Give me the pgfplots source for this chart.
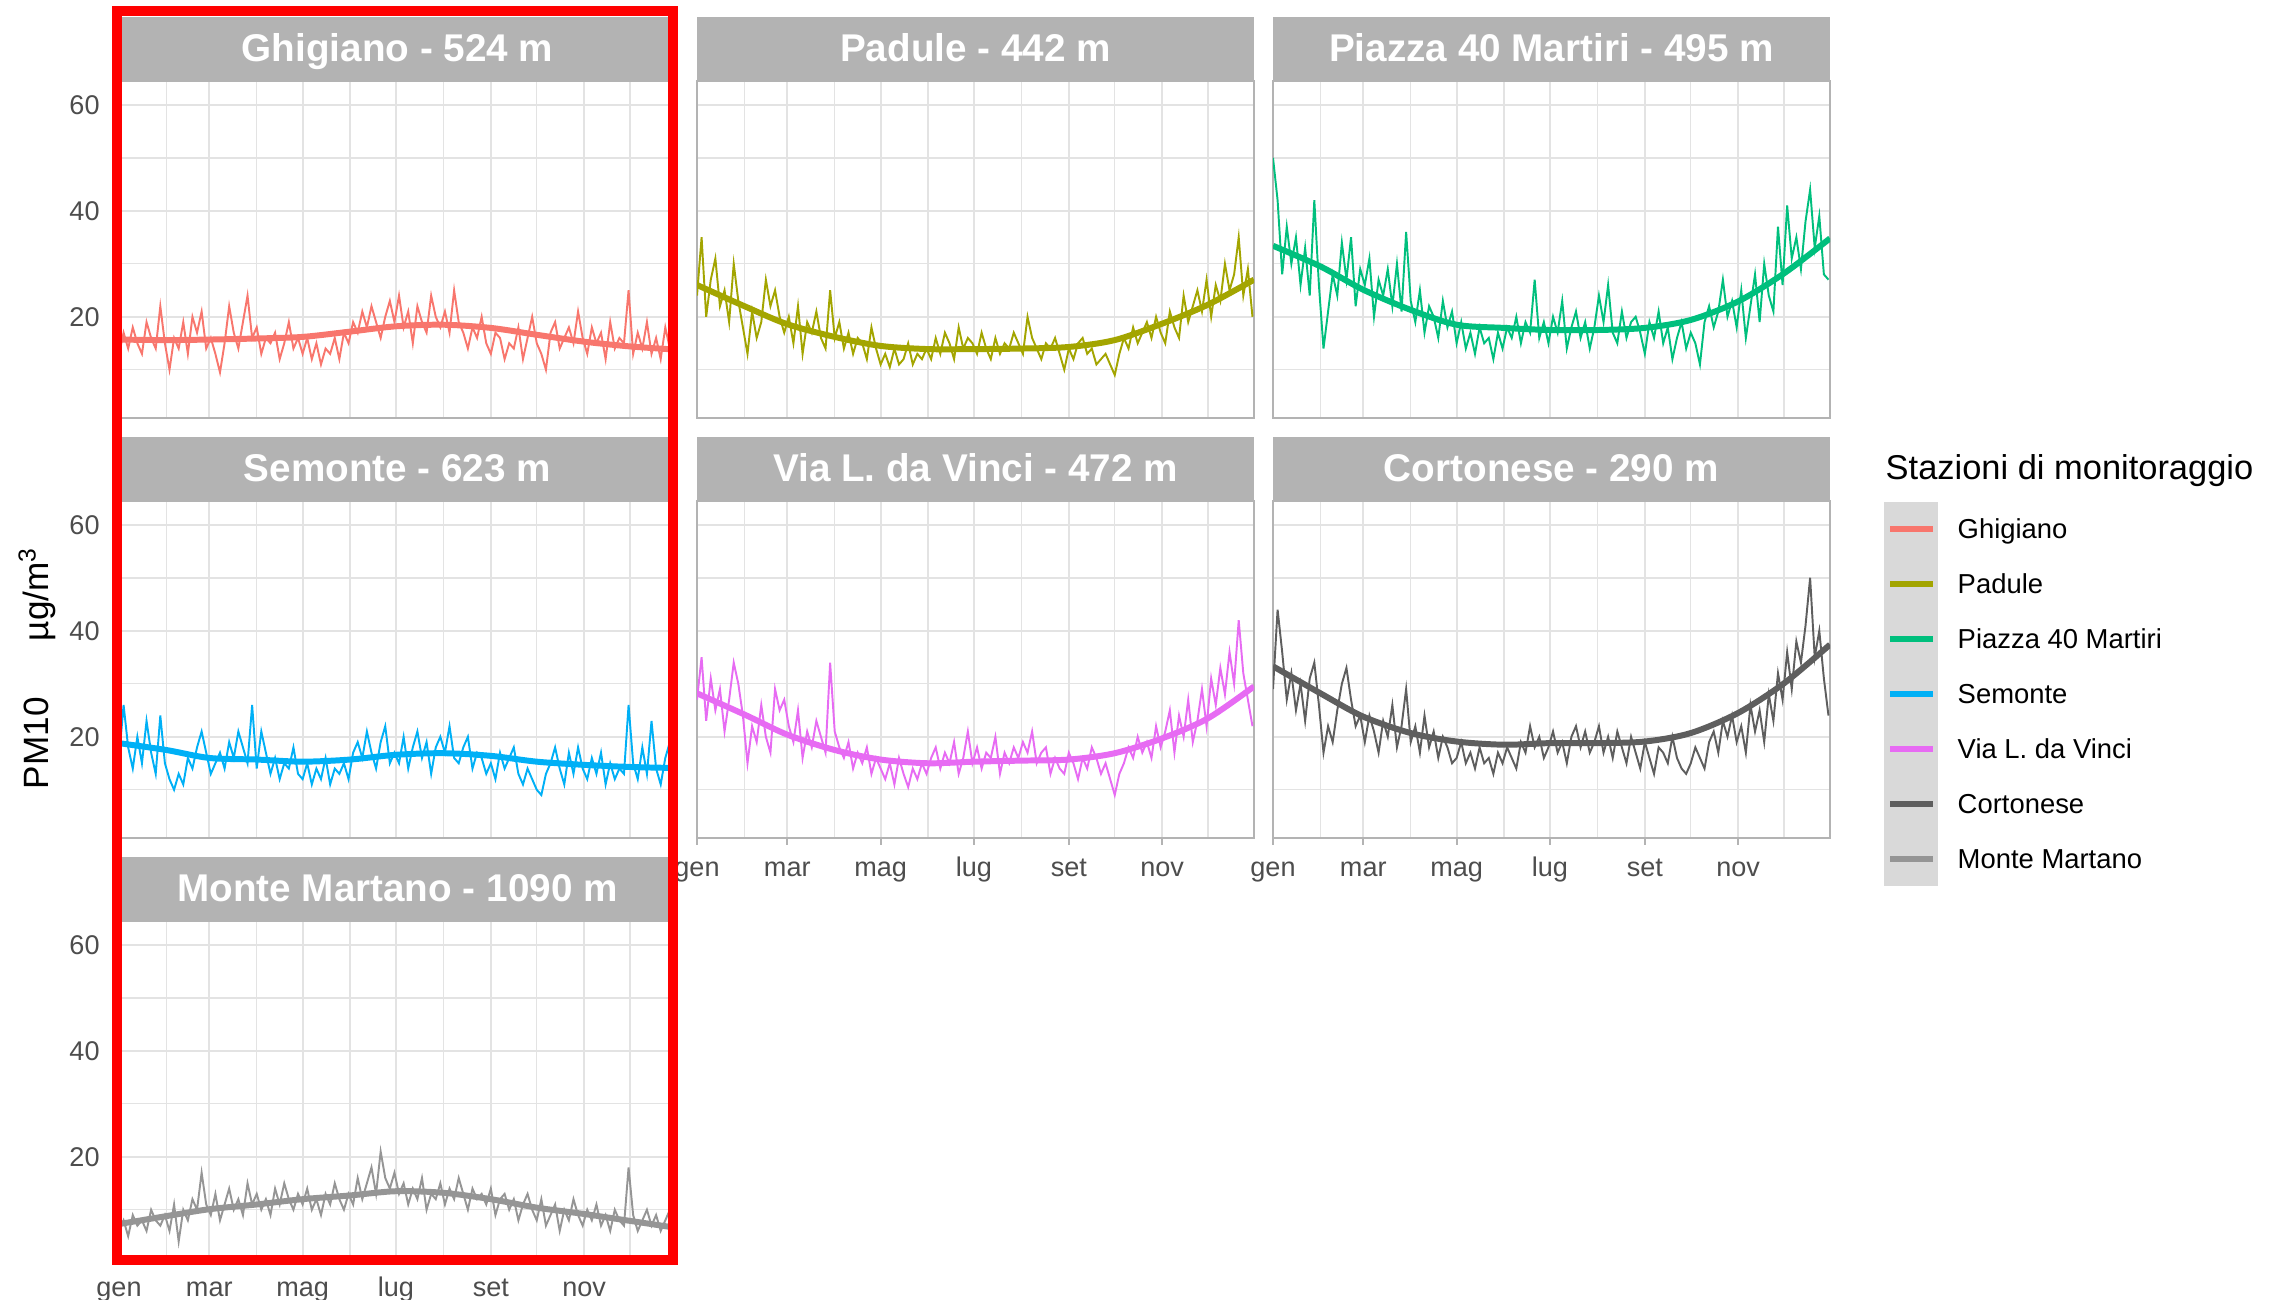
\documentclass[border=0pt]{standalone}
\usepackage{pgfplots}
\usepackage{pgfplotstable}
\usepackage{fontspec}
\setmainfont{Liberation Sans}
\pgfplotsset{compat=1.18}

\definecolor{cGhi}{HTML}{F8766D}
\definecolor{cPad}{HTML}{A3A500}
\definecolor{cPia}{HTML}{00BF7D}
\definecolor{cSem}{HTML}{00B0F6}
\definecolor{cVia}{HTML}{E76BF3}
\definecolor{cCor}{HTML}{5E5E5E}
\definecolor{cMM}{HTML}{959595}
\definecolor{stripc}{HTML}{B3B3B3}
\definecolor{gridc}{HTML}{E3E3E3}
\definecolor{ticklab}{HTML}{4D4D4D}
\definecolor{keybg}{HTML}{D9D9D9}

% daily PM10, one value every 3 days from 1 Jan
\pgfplotstableread[row sep=\\, header=false]{
13\\17\\14\\18\\15\\13\\19\\16\\14\\22\\ 15\\10\\16\\14\\19\\13\\20\\17\\21\\14\\
16\\13\\9.5\\15\\22\\17\\14\\19\\24\\16\\ 18\\13\\16\\15\\17\\12\\15\\19\\14\\16\\
13\\16\\12\\15\\11\\14\\13\\16\\12\\17\\ 15\\19\\17\\21\\18\\22\\19\\16\\20\\23\\
19\\24\\18\\21\\15\\22\\19\\17\\24\\20\\ 18\\21\\17\\25\\19\\17\\14\\18\\16\\20\\
15\\13\\17\\16\\12\\15\\14\\18\\12\\16\\ 20\\15\\13\\10\\17\\19\\14\\16\\18\\15\\
21\\16\\13\\18\\15\\17\\12\\19\\14\\16\\ 15\\25\\13\\17\\14\\19\\13\\16\\12\\18\\14\\15\\
}\tGhi
\pgfplotstableread[row sep=\\, header=false]{
24\\35\\20\\27\\31\\22\\25\\19\\30\\23\\ 18\\13\\21\\16\\19\\27\\22\\25\\20\\17\\
20\\15\\22\\13\\19\\17\\21\\16\\14\\25\\ 16\\19\\14\\17\\13\\16\\15\\12\\18\\14\\
11\\13\\10.5\\14\\11\\12\\15\\11\\13\\12\\ 14\\12\\16\\13\\17\\15\\12\\18\\14\\16\\
15\\13\\17\\14\\12\\16\\13\\15\\14\\17\\ 15\\13\\20\\16\\14\\12\\15\\14\\16\\13\\
10\\14\\12\\15\\16\\13\\14\\11\\12\\13\\ 11\\9\\13\\16\\14\\18\\15\\17\\19\\16\\
20\\17\\15\\21\\18\\16\\24\\19\\22\\25\\ 21\\27\\20\\26\\23\\30\\25\\28\\35\\24\\29\\20\\
}\tPad
\pgfplotstableread[row sep=\\, header=false]{
50\\42\\28\\37\\30\\35\\26\\33\\24\\42\\ 26\\14\\21\\28\\24\\34\\27\\35\\22\\29\\
26\\31\\20\\27\\24\\29\\22\\30\\21\\36\\ 23\\19\\25\\17\\22\\20\\16\\23\\18\\21\\
15\\19\\14\\17\\13\\18\\15\\16\\12\\17\\ 14\\18\\16\\20\\15\\19\\17\\27\\16\\19\\
15\\20\\17\\23\\14\\18\\21\\16\\19\\14\\ 18\\24\\19\\26\\17\\15\\21\\16\\19\\20\\
17\\13\\19\\16\\21\\15\\18\\12\\16\\19\\ 14\\17\\15\\11\\19\\22\\18\\21\\27\\20\\
23\\18\\25\\16\\22\\28\\19\\30\\24\\21\\ 37\\26\\41\\31\\35\\29\\38\\44\\33\\39\\28\\27\\
}\tPia
\pgfplotstableread[row sep=\\, header=false]{
16\\26\\18\\14\\20\\15\\23\\17\\13\\24\\ 15\\12\\10\\13\\11\\16\\14\\18\\21\\17\\
13\\15\\17\\14\\19\\16\\21\\18\\15\\26\\ 14\\21\\17\\13\\16\\12\\15\\14\\18\\13\\
12\\15\\11\\14\\12\\16\\11\\14\\13\\15\\ 12\\17\\19\\16\\21\\17\\14\\19\\22\\15\\
17\\15\\20\\14\\18\\21\\16\\19\\13\\18\\ 20\\17\\22\\16\\15\\18\\20\\14\\17\\16\\
13\\15\\12\\17\\14\\16\\18\\13\\11\\14\\ 12\\10\\9\\13\\15\\18\\14\\11\\17\\13\\
18\\14\\12\\16\\13\\17\\11\\15\\12\\14\\ 13\\26\\15\\12\\18\\13\\23\\14\\11\\16\\19\\18\\
}\tSem
\pgfplotstableread[row sep=\\, header=false]{
27\\35\\23\\31\\25\\29\\21\\27\\34\\30\\ 24\\15\\22\\19\\26\\20\\17\\29\\25\\27\\
22\\19\\25\\16\\21\\18\\23\\20\\17\\34\\ 21\\18\\16\\19\\14\\17\\15\\18\\13\\16\\
14\\12\\15\\11\\16\\13\\10.5\\14\\12\\15\\ 13\\16\\18\\14\\17\\15\\19\\13\\16\\21\\
15\\18\\14\\17\\16\\20\\13\\17\\15\\18\\ 16\\19\\17\\21\\15\\17\\18\\13\\16\\14\\
13\\17\\15\\12\\16\\14\\18\\16\\13\\15\\ 12\\9\\13\\15\\18\\16\\20\\17\\19\\16\\
22\\18\\21\\25\\17\\24\\20\\27\\19\\23\\ 29\\22\\31\\26\\33\\28\\36\\30\\42\\32\\27\\22\\
}\tVia
\pgfplotstableread[row sep=\\, header=false]{
29\\44\\36\\27\\32\\25\\30\\23\\31\\34\\ 26\\17\\22\\19\\25\\30\\33\\27\\22\\24\\
19\\24\\21\\17\\23\\20\\26\\18\\22\\29\\ 19\\22\\17\\24\\18\\21\\16\\20\\18\\15\\
16\\19\\15\\17\\14\\18\\15\\16\\13\\17\\ 15\\18\\16\\14\\19\\17\\22\\18\\20\\16\\
18\\21\\17\\19\\15\\20\\22\\18\\21\\17\\ 19\\22\\17\\20\\16\\21\\18\\15\\20\\17\\
14\\19\\16\\13\\18\\17\\15\\20\\16\\14\\ 13\\15\\18\\16\\14\\19\\21\\17\\23\\20\\
24\\19\\22\\17\\26\\21\\25\\19\\28\\23\\ 32\\27\\36\\29\\38\\34\\41\\50\\35\\40\\31\\24\\
}\tCor
\pgfplotstableread[row sep=\\, header=false]{
6\\8\\5\\9\\7\\8\\6\\10\\8\\7\\ 9\\6\\11\\4\\10\\8\\12\\10\\17\\11\\
9\\13\\8\\11\\14\\10\\12\\9\\15\\11\\ 13\\10\\12\\9\\14\\11\\15\\12\\10\\13\\
11\\14\\10\\12\\9\\13\\11\\15\\12\\10\\ 13\\11\\16\\12\\15\\18\\13\\21\\16\\14\\
17\\13\\15\\11\\14\\12\\16\\10\\13\\12\\ 15\\11\\14\\12\\16\\13\\10\\14\\12\\13\\
11\\14\\9\\12\\13\\10\\12\\8\\11\\13\\ 10\\8\\12\\7\\9\\11\\6\\10\\8\\12\\
9\\7\\10\\8\\11\\7\\9\\6\\10\\8\\ 7\\18\\9\\6\\8\\10\\7\\9\\6\\8\\10\\7\\
}\tMM

\pgfplotsset{
  panel/.style={
    scale only axis, width=55.7mm, height=33.7mm, anchor=south west,
    xmin=0, xmax=364, ymin=0.9, ymax=64.5,
    xtick={0,59,120,181,243,304}, minor xtick={31,90,151,212,273,334},
    ytick={20,40,60}, minor ytick={10,30,50},
    grid=both,
    major grid style={draw=gridc, line width=0.55pt},
    minor grid style={draw=gridc, line width=0.4pt},
    axis line style={draw=stripc, line width=0.6pt},
    tick align=outside, major tick length=0.7mm, minor tick length=0pt,
    xtick style={draw=none}, ytick style={draw=none},
    xticklabels={}, yticklabels={},
    tick label style={font=\fontsize{7.7}{9}\selectfont, text=ticklab},
    xticklabel style={text height=0.55em, text depth=0.2em},
  },
  xlab/.style={xticklabels={gen,mar,mag,lug,set,nov}, xtick pos=left,
    xtick style={draw=stripc, line width=0.5pt}},
  ylab/.style={yticklabels={20,40,60}},
  raw/.style={color=#1, line width=0.55pt, no markers},
  fit/.style={color=#1, line width=1.7pt, smooth, no markers},
}

\begin{document}
\begin{tikzpicture}
% row 1
\begin{axis}[panel, ylab, at={(11.9mm,88.2mm)}]
\addplot[raw=cGhi] table[x expr=\coordindex*3, y index=0] {\tGhi};
\addplot[fit=cGhi] coordinates {(0,15.7)(31,15.6)(59,15.7)(90,15.9)(120,16.2)(151,17.2)(181,18.2)(212,18.5)(243,17.9)(273,16.6)(304,15.3)(334,14.4)(364,13.8)};
\end{axis}
\begin{axis}[panel, at={(69.7mm,88.2mm)}]
\addplot[raw=cPad] table[x expr=\coordindex*3, y index=0] {\tPad};
\addplot[fit=cPad] coordinates {(0,26)(31,22)(59,18.6)(90,16.2)(120,14.5)(151,13.9)(181,13.9)(212,14.0)(243,14.3)(273,15.6)(304,18.7)(334,22.3)(364,27)};
\end{axis}
\begin{axis}[panel, at={(127.3mm,88.2mm)}]
\addplot[raw=cPia] table[x expr=\coordindex*3, y index=0] {\tPia};
\addplot[fit=cPia] coordinates {(0,33.4)(31,29.5)(59,25.1)(90,21.3)(120,18.5)(151,17.9)(181,17.5)(212,17.5)(243,17.9)(273,19.4)(304,22.9)(334,28.2)(364,34.8)};
\end{axis}
% row 2
\begin{axis}[panel, ylab, at={(11.9mm,46.2mm)}]
\addplot[raw=cSem] table[x expr=\coordindex*3, y index=0] {\tSem};
\addplot[fit=cSem] coordinates {(0,18.8)(31,17.5)(59,16.0)(90,15.7)(120,15.3)(151,15.7)(181,16.6)(212,16.9)(243,16.4)(273,15.3)(304,14.7)(334,14.3)(364,14.1)};
\end{axis}
\begin{axis}[panel, xlab, at={(69.7mm,46.2mm)}]
\addplot[raw=cVia] table[x expr=\coordindex*3, y index=0] {\tVia};
\addplot[fit=cVia] coordinates {(0,28.2)(31,24.2)(59,20.4)(90,17.5)(120,15.7)(151,15.0)(181,15.3)(212,15.5)(243,15.7)(273,16.9)(304,19.7)(334,23.5)(364,29.5)};
\end{axis}
\begin{axis}[panel, xlab, at={(127.3mm,46.2mm)}]
\addplot[raw=cCor] table[x expr=\coordindex*3, y index=0] {\tCor};
\addplot[fit=cCor] coordinates {(0,33.3)(31,28.2)(59,23.8)(90,20.7)(120,19.1)(151,18.5)(181,18.8)(212,18.8)(243,19.1)(273,20.7)(304,24.5)(334,30.1)(364,37.4)};
\end{axis}
% row 3
\begin{axis}[panel, ylab, xlab, at={(11.9mm,4.2mm)}]
\addplot[raw=cMM] table[x expr=\coordindex*3, y index=0] {\tMM};
\addplot[fit=cMM] coordinates {(0,7.3)(31,8.8)(59,10.1)(90,11.0)(120,12.0)(151,12.7)(181,13.5)(212,13.2)(243,12.0)(273,10.4)(304,9.2)(334,7.9)(364,6.6)};
\end{axis}

\begin{scope}[x=0.1mm, y=-0.1mm, shift={(0mm,130mm)}]
  \tikzset{striptxt/.style={text=white, anchor=base, font=\bfseries\fontsize{11}{13}\selectfont}}
  \foreach \x/\y/\t in {119/17/{Ghigiano - 524 m}, 697/17/{Padule - 442 m}, 1273/17/{Piazza 40 Martiri - 495 m},
      119/437/{Semonte - 623 m}, 697/437/{Via L. da Vinci - 472 m}, 1273/437/{Cortonese - 290 m},
      119/857/{Monte Martano - 1090 m}} {
    \fill[stripc] (\x,\y) rectangle ++(557,64);
    \node[striptxt] at (\x+278.5,\y+45) {\t};
  }
  % y axis title
  \node[rotate=90, font=\fontsize{10}{12}\selectfont] at (37,668) {PM10\hspace{1.6em}µg/m\textsuperscript{3}};
  % legend
  \node[anchor=base west, inner sep=0pt, font=\fontsize{9.8}{12}\selectfont] at (1885,480) {Stazioni di monitoraggio};
  \fill[keybg] (1884,502) rectangle (1938,886);
  \foreach \c/\t [count=\k from 0] in {cGhi/Ghigiano, cPad/Padule, cPia/Piazza 40 Martiri, cSem/Semonte,
      cVia/Via L. da Vinci, cCor/Cortonese, cMM/Monte Martano} {
    \draw[\c, line width=0.6mm] (1890,529+55*\k) -- (1933,529+55*\k);
    \node[anchor=base west, inner sep=0pt, font=\fontsize{7.8}{9}\selectfont] at (1957,539+55*\k) {\t};
  }
  % highlight frame
  \draw[red, line width=1mm] (117,11) rectangle (673,1260);
\end{scope}
\pgfresetboundingbox
\path[use as bounding box] (0,0) rectangle (228.5mm,130mm);
\end{tikzpicture}
\end{document}
